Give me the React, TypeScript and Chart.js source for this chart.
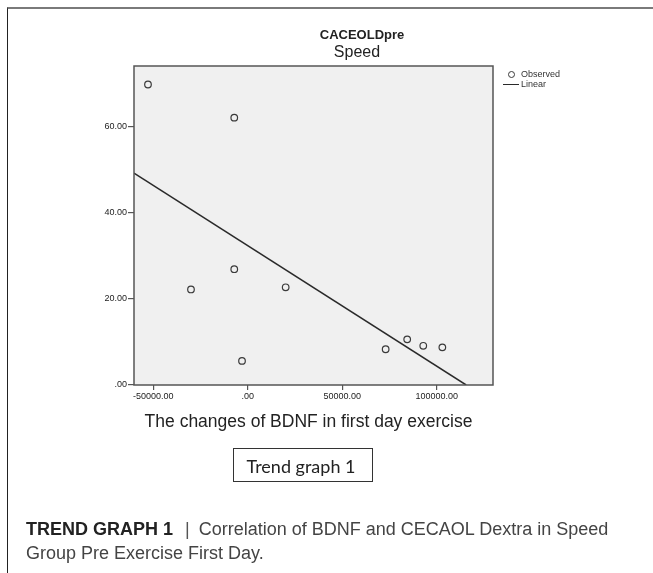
import React, { useEffect, useRef } from 'react';
import { Chart, registerables } from 'chart.js';

Chart.register(...registerables);

// ---- data ----
const observedX = [-52750, -7100, -7100, -30000, 20100, -3000, 73000, 84400, 92900, 103000];
const observedY = [69.8, 62.1, 26.9, 22.2, 22.7, 5.6, 8.3, 10.6, 9.1, 8.75];
const linearX = [-60150, 115600];
const linearY = [49.2, 0];
const xTicks = [-50000, 0, 50000, 100000];
const yTicks = [0, 20, 40, 60];
const xRange = [-60150, 129800];
const yRange = [0, 74.1];

const fmt = (v: number) => (v === 0 ? '.00' : v.toFixed(2));

const plotFrame = {
  id: 'plotFrame',
  beforeDraw(chart: any) {
    const { ctx, chartArea: a } = chart;
    ctx.save();
    ctx.fillStyle = '#f0f0f0';
    ctx.fillRect(a.left, a.top, a.right - a.left, a.bottom - a.top);
    ctx.restore();
  },
  afterDraw(chart: any) {
    const { ctx, chartArea: a } = chart;
    ctx.save();
    ctx.strokeStyle = '#555';
    ctx.lineWidth = 1.5;
    ctx.strokeRect(a.left, a.top, a.right - a.left, a.bottom - a.top);
    ctx.restore();
  },
};

const tickFont = { family: "'Liberation Sans', Arial, sans-serif", size: 9 };

export default function App() {
  const ref = useRef<HTMLCanvasElement>(null);

  useEffect(() => {
    if (!ref.current) return;
    const chart = new Chart(ref.current, {
      type: 'scatter',
      data: {
        datasets: [
          {
            label: 'Observed',
            data: observedX.map((x, i) => ({ x, y: observedY[i] })),
            pointStyle: 'circle',
            pointRadius: 3.3,
            pointBorderWidth: 1.2,
            borderColor: '#3a3a3a',
            backgroundColor: 'rgba(0,0,0,0)',
            showLine: false,
          },
          {
            label: 'Linear',
            type: 'line',
            data: linearX.map((x, i) => ({ x, y: linearY[i] })),
            borderColor: '#2a2a2a',
            borderWidth: 1.5,
            pointRadius: 0,
            showLine: true,
            fill: false,
          } as any,
        ],
      },
      options: {
        responsive: false,
        animation: false,
        devicePixelRatio: 1,
        layout: { padding: { left: 84, top: 66, right: 160, bottom: 168 } },
        plugins: {
          legend: { display: false },
          title: { display: false },
          tooltip: { enabled: false },
        },
        scales: {
          x: {
            type: 'linear',
            min: xRange[0],
            max: xRange[1],
            afterBuildTicks: (s: any) => {
              s.ticks = xTicks.map((v) => ({ value: v }));
            },
            afterFit: (s: any) => {
              s.height = 20;
            },
            border: { display: false },
            grid: {
              drawOnChartArea: false,
              drawTicks: true,
              tickLength: 5,
              tickColor: '#555',
              lineWidth: 1.2,
            },
            ticks: {
              font: tickFont,
              color: '#222',
              padding: 1,
              maxRotation: 0,
              autoSkip: false,
              callback: (v: any) => fmt(Number(v)),
            },
          },
          y: {
            type: 'linear',
            min: yRange[0],
            max: yRange[1],
            afterBuildTicks: (s: any) => {
              s.ticks = yTicks.map((v) => ({ value: v }));
            },
            afterFit: (s: any) => {
              s.width = 50;
            },
            border: { display: false },
            grid: {
              drawOnChartArea: false,
              drawTicks: true,
              tickLength: 6,
              tickColor: '#555',
              lineWidth: 1.2,
            },
            ticks: {
              font: tickFont,
              color: '#222',
              padding: 1,
              autoSkip: false,
              callback: (v: any) => fmt(Number(v)),
            },
          },
        },
      },
      plugins: [plotFrame],
    } as any);
    return () => chart.destroy();
  }, []);

  const sans = "'Liberation Sans', Arial, sans-serif";
  const centered = (left: number, top: number, extra: React.CSSProperties): React.CSSProperties => ({
    position: 'absolute',
    left,
    top,
    transform: 'translateX(-50%)',
    whiteSpace: 'nowrap',
    lineHeight: 1,
    ...extra,
  });

  return (
    <div style={{ position: 'absolute', left: 0, top: 0, width: 653, height: 573, overflow: 'hidden', background: '#fff', fontFamily: sans }}>
      <div
        style={{
          position: 'absolute',
          left: 7,
          top: 7,
          width: 646,
          height: 566,
          borderTop: '2px solid #7a7a7a',
          borderLeft: '1.5px solid #222',
          boxSizing: 'border-box',
        }}
      />
      <canvas ref={ref} width={653} height={573} style={{ position: 'absolute', left: 0, top: 0, width: 653, height: 573 }} />

      <div style={centered(362, 28, { fontSize: 13, fontWeight: 'bold', color: '#222' })}>CACEOLDpre</div>
      <div style={centered(357, 44, { fontSize: 16, color: '#222' })}>Speed</div>

      {/* legend */}
      <div
        style={{
          position: 'absolute',
          left: 507.5,
          top: 70.5,
          width: 7,
          height: 7,
          borderRadius: '50%',
          border: '1.2px solid #3a3a3a',
          boxSizing: 'border-box',
        }}
      />
      <div style={{ position: 'absolute', left: 521, top: 69.5, fontSize: 9, lineHeight: 1, color: '#333' }}>Observed</div>
      <div style={{ position: 'absolute', left: 503, top: 83.5, width: 16, height: 1.5, background: '#2a2a2a' }} />
      <div style={{ position: 'absolute', left: 521, top: 80, fontSize: 9, lineHeight: 1, color: '#333' }}>Linear</div>

      <div style={centered(308.5, 413, { fontSize: 17.5, color: '#222' })}>The changes of BDNF in first day exercise</div>

      <div
        style={{
          position: 'absolute',
          left: 233,
          top: 448,
          width: 140,
          height: 34,
          border: '1.5px solid #333',
          boxSizing: 'border-box',
        }}
      />
      <div style={centered(301, 456.7, { fontSize: 18, fontFamily: 'Lato, sans-serif', color: '#222' })}>Trend graph 1</div>

      <div style={{ position: 'absolute', left: 26, top: 520.1, fontSize: 18, lineHeight: 1, color: '#444', whiteSpace: 'nowrap' }}>
        <span style={{ fontWeight: 'bold', color: '#222' }}>TREND GRAPH 1</span>
        <span style={{ margin: '0 9px 0 12px', color: '#555' }}>|</span>
        Correlation of BDNF and CECAOL Dextra in Speed
      </div>
      <div style={{ position: 'absolute', left: 26, top: 543.8, fontSize: 18, lineHeight: 1, color: '#444', whiteSpace: 'nowrap' }}>
        Group Pre Exercise First Day.
      </div>
    </div>
  );
}
